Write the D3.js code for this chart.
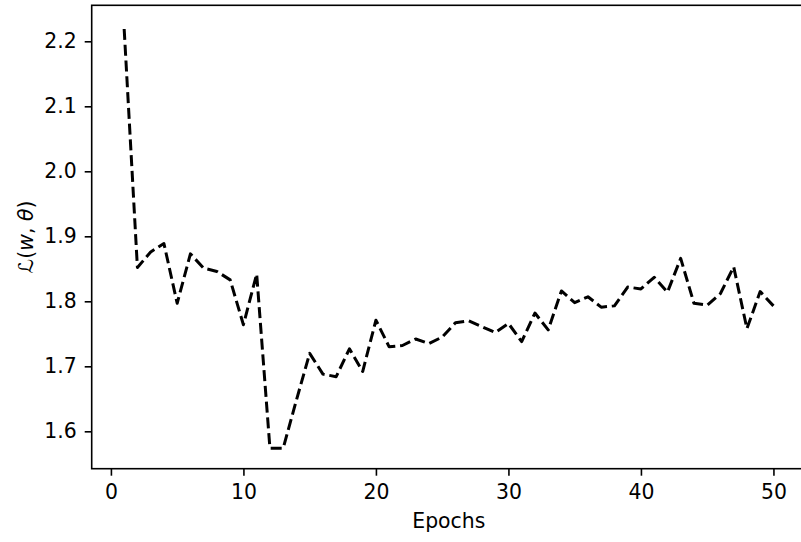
<!DOCTYPE html>
<html>
<head>
<meta charset="utf-8">
<script src="https://cdn.jsdelivr.net/npm/d3@7"></script>
<style>
  body { margin: 0; background: #fff; }
  svg { display: block; }
  text { font-family: "DejaVu Sans", sans-serif; }
</style>
</head>
<body>
<svg id="canvas" width="801" height="542"></svg>
<script>
// loss per epoch
let epochs = d3.range(1, 51)
let loss = [
    2.219, 1.852, 1.876, 1.889, 1.797, 1.873, 1.851, 1.846, 1.833, 1.764,
    1.842, 1.574, 1.574, 1.648, 1.720, 1.688, 1.684, 1.727, 1.692, 1.771,
    1.730, 1.732, 1.742, 1.735, 1.745, 1.767, 1.770, 1.761, 1.752, 1.766,
    1.738, 1.782, 1.756, 1.816, 1.798, 1.807, 1.791, 1.793, 1.822, 1.819,
    1.837, 1.814, 1.866, 1.797, 1.794, 1.812, 1.853, 1.758, 1.815, 1.793
]
let xTicks = [0, 10, 20, 30, 40, 50]
let yTicks = [1.6, 1.7, 1.8, 1.9, 2.0, 2.1, 2.2]

let canvas = d3.select('#canvas')
let fontSize = 20.4

// axes box (right spine falls just outside the picture)
let boxLeft = 91.7, boxRight = 805.9, boxTop = 5.3, boxBottom = 468.7

let xScale = d3.scaleLinear().domain([-1.45, 52.45]).range([boxLeft, boxRight])
let yScale = d3.scaleLinear().domain([1.5425, 2.2554]).range([boxBottom, boxTop])

let xAxis = d3.axisBottom(xScale)
    .tickValues(xTicks)
    .tickFormat(d3.format('d'))
    .tickSize(7)
    .tickSizeOuter(0)
    .tickPadding(9)

let yAxis = d3.axisLeft(yScale)
    .tickValues(yTicks)
    .tickFormat(d3.format('.1f'))
    .tickSize(7)
    .tickSizeOuter(0)
    .tickPadding(8)

let gx = canvas.append('g')
    .attr('transform', 'translate(0,' + boxBottom + ')')
    .call(xAxis)
let gy = canvas.append('g')
    .attr('transform', 'translate(' + boxLeft + ',0)')
    .call(yAxis)

;[gx, gy].forEach((g) => {
    g.select('.domain').remove()
    g.selectAll('line').attr('stroke', '#000').attr('stroke-width', 1.6)
    g.selectAll('text')
        .attr('fill', '#000')
        .style('font-size', fontSize + 'px')
        .style('font-family', '"DejaVu Sans", sans-serif')
})

// the loss curve
let line = d3.line()
    .x((d, i) => xScale(epochs[i]))
    .y((d) => yScale(d))

canvas.append('path')
    .datum(loss)
    .attr('d', line)
    .attr('fill', 'none')
    .attr('stroke', '#000')
    .attr('stroke-width', 3)
    .attr('stroke-dasharray', '11,4.8')
    .attr('stroke-linejoin', 'round')

// spines
canvas.append('rect')
    .attr('x', boxLeft)
    .attr('y', boxTop)
    .attr('width', boxRight - boxLeft)
    .attr('height', boxBottom - boxTop)
    .attr('fill', 'none')
    .attr('stroke', '#000')
    .attr('stroke-width', 1.6)

// axis labels
canvas.append('text')
    .attr('x', (boxLeft + boxRight) / 2)
    .attr('y', 528)
    .attr('text-anchor', 'middle')
    .style('font-size', fontSize + 'px')
    .text('Epochs')

let ylab = canvas.append('text')
    .attr('transform', 'translate(33,' + ((boxTop + boxBottom) / 2) + ') rotate(-90)')
    .attr('text-anchor', 'middle')
    .style('font-size', fontSize + 'px')
ylab.append('tspan').text('ℒ(')
ylab.append('tspan').style('font-style', 'italic').text('w')
ylab.append('tspan').text(', ')
ylab.append('tspan').style('font-style', 'italic').text('θ')
ylab.append('tspan').text(')')
</script>
</body>
</html>
